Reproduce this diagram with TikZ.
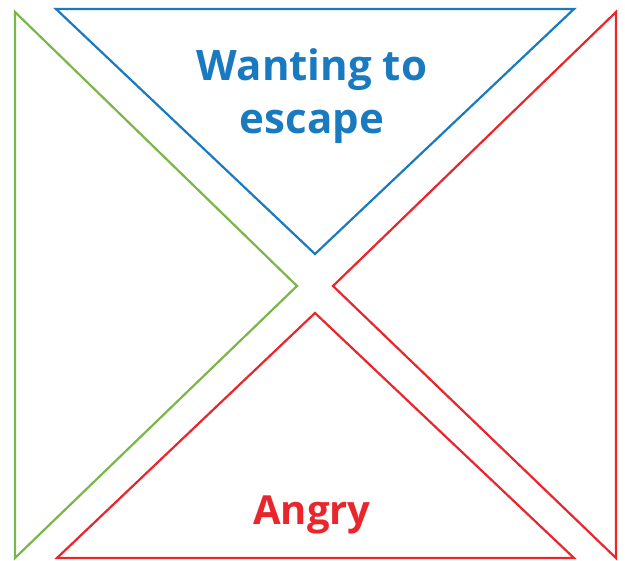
\documentclass[tikz,border=0pt]{standalone}
\usepackage{fontspec}
\setmainfont{Open Sans}
\usepackage{tikz}
\definecolor{escblue}{HTML}{1A7ABF}
\definecolor{leftgreen}{HTML}{7AB648}
\definecolor{angryred}{HTML}{E8262B}
\tikzset{
  tri/.style={line width=2.2pt, line join=miter},
  label/.style={align=center, font=\fontsize{42}{53}\selectfont\bfseries, inner sep=0pt}
}

\begin{document}
\begin{tikzpicture}[x=1pt, y=-1pt]
\useasboundingbox (0,0) rectangle (625,561);
\draw[tri, escblue] (56,9) -- (574,9) -- (315,254) -- cycle;
\draw[tri, leftgreen] (15,12) -- (297,286) -- (15,558) -- cycle;
\draw[tri, angryred] (616,12) -- (333,286) -- (616,558) -- cycle;
\draw[tri, angryred] (57,558) -- (574,558) -- (315,313) -- cycle;
\node[label, text=escblue, anchor=base] (escape) at (312,134) {Wanting to\\escape};
\node[label, text=angryred, anchor=base, font=\fontsize{40}{48}\selectfont\bfseries] (angry) at (312,525) {Angry};
\end{tikzpicture}
\end{document}
